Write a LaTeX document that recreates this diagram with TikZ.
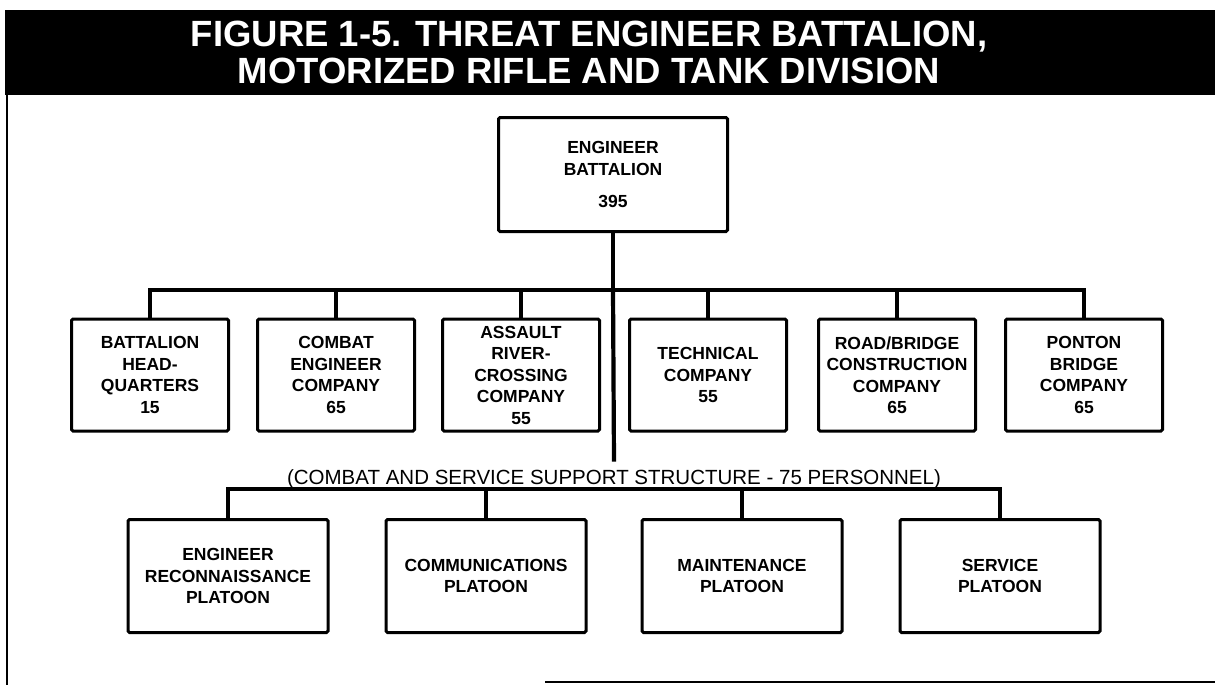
\documentclass[tikz,border=0pt]{standalone}
\usepackage{fontspec}
\setmainfont{Liberation Sans}
\usetikzlibrary{calc}

\begin{document}
\begin{tikzpicture}[x=1pt,y=-1pt,line width=3pt,
  unit/.style={draw,rounded corners=1.5pt,align=center,inner sep=0pt,
    font=\fontsize{17.5}{21.5}\selectfont\bfseries},
  link/.style={line width=4.2pt}]
  \useasboundingbox (0,0) rectangle (1215,685);
  % title bar and frame
  \fill (5,10) rectangle (1215,95);
  \node[text=white,align=center,font=\fontsize{36.5}{37}\selectfont\bfseries] (title) at (589,52)
    {FIGURE 1-5. THREAT ENGINEER BATTALION,\\MOTORIZED RIFLE AND TANK DIVISION};
  \draw[line width=2.4pt] (7,95) -- (7,685);
  \draw[line width=2.4pt] (545,682) -- (1215,682);
  % battalion
  \node[unit,minimum width=229pt,minimum height=114pt] (bn) at (613,174.5)
    {ENGINEER\\BATTALION\\[11pt]395};
  % companies
  \foreach \x/\n/\t in {150/hq/{BATTALION\\HEAD-\\QUARTERS\\15},
      336/ce/{COMBAT\\ENGINEER\\COMPANY\\65},
      521/arc/{ASSAULT\\RIVER-\\CROSSING\\COMPANY\\55},
      708/tech/{TECHNICAL\\COMPANY\\55},
      897/road/{ROAD/BRIDGE\\CONSTRUCTION\\COMPANY\\65},
      1084/pon/{PONTON\\BRIDGE\\COMPANY\\65}}
    \node[unit,minimum width=157pt,minimum height=112pt] (\n) at (\x,375) {\t};
  % support structure
  \node[font=\fontsize{20.5}{24}\selectfont,anchor=base,inner sep=1pt] (css) at (614,484)
    {(COMBAT AND SERVICE SUPPORT STRUCTURE - 75 PERSONNEL)};
  \foreach \x/\n/\t in {228/erp/{ENGINEER\\RECONNAISSANCE\\PLATOON},
      486/comm/{COMMUNICATIONS\\PLATOON},
      742/mnt/{MAINTENANCE\\PLATOON},
      1000/svc/{SERVICE\\PLATOON}}
    \node[unit,minimum width=200pt,minimum height=113pt] (\n) at (\x,576) {\t};
  % links
  \coordinate (j1) at (613,290);
  \coordinate (j2) at (613,489);
  \draw[link] (bn.south) -- (j1);
  \draw[link] (hq.north) |- (j1) -| (pon.north);
  \foreach \n in {ce,arc,tech,road} \draw[link] (\n.north) -- (\n.north |- j1);
  \draw[link] (j1) -- ([yshift=5pt]css.north);
  \draw[link] (erp.north) |- (j2) -| (svc.north);
  \foreach \n in {comm,mnt} \draw[link] (\n.north) -- (\n.north |- j2);
\end{tikzpicture}
\end{document}
